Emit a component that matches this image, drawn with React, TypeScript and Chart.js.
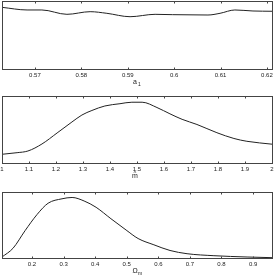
import React, { useEffect, useRef } from "react";
import { Chart, registerables } from "chart.js";

Chart.register(...registerables);

// Panel 1: a_1
const A1_X = [0.5629, 0.5683, 0.5715, 0.5769, 0.5819, 0.5855, 0.5905, 0.5959, 0.5997, 0.6073, 0.6099, 0.6131, 0.617, 0.6211];
const A1_Y = [0.907, 0.868, 0.868, 0.804, 0.843, 0.819, 0.769, 0.804, 0.799, 0.794, 0.819, 0.868, 0.853, 0.849];
const A1_TICKS = [0.57, 0.58, 0.59, 0.6, 0.61, 0.62];
const A1_LABELS = ["0.57", "0.58", "0.59", "0.6", "0.61", "0.62"];

// Panel 2: m-hat
const M_X = [1.0, 1.056, 1.096, 1.148, 1.204, 1.259, 1.296, 1.333, 1.381, 1.437, 1.481, 1.519, 1.574, 1.622, 1.667, 1.722, 1.796, 1.859, 1.907, 2.0];
const M_Y = [0.13, 0.154, 0.179, 0.284, 0.448, 0.612, 0.716, 0.784, 0.851, 0.885, 0.907, 0.907, 0.828, 0.734, 0.652, 0.575, 0.452, 0.366, 0.324, 0.281];
const M_TICKS = [1, 1.1, 1.2, 1.3, 1.4, 1.5, 1.6, 1.7, 1.8, 1.9, 2];
const M_LABELS = ["1", "1.1", "1.2", "1.3", "1.4", "1.5", "1.6", "1.7", "1.8", "1.9", "2"];

// Panel 3: Omega_m
const OM_X = [0.105, 0.14, 0.178, 0.216, 0.251, 0.295, 0.327, 0.365, 0.403, 0.45, 0.498, 0.536, 0.586, 0.637, 0.691, 0.776, 0.881, 0.96];
const OM_Y = [0.015, 0.148, 0.414, 0.659, 0.83, 0.897, 0.917, 0.864, 0.768, 0.595, 0.424, 0.295, 0.2, 0.114, 0.065, 0.035, 0.015, 0.005];
const OM_TICKS = [0.2, 0.3, 0.4, 0.5, 0.6, 0.7, 0.8, 0.9];
const OM_LABELS = ["0.2", "0.3", "0.4", "0.5", "0.6", "0.7", "0.8", "0.9"];

type PanelProps = {
  top: number;
  height: number;
  pad: { left: number; top: number; right: number; bottom: number };
  xs: number[];
  ys: number[];
  xmin: number;
  xmax: number;
  ticks: number[];
  labels: string[];
  title: string;
  sub: string;
  hat?: boolean;
};

function Panel(p: PanelProps) {
  const ref = useRef<HTMLCanvasElement | null>(null);
  useEffect(() => {
    if (!ref.current) return;
    const boxPlugin = {
      id: "box",
      afterDraw(chart: any) {
        const ctx = chart.ctx as CanvasRenderingContext2D;
        const a = chart.chartArea;
        const xs = chart.scales.x;
        ctx.save();
        ctx.strokeStyle = "#444";
        ctx.lineWidth = 1;
        ctx.strokeRect(a.left + 0.5, a.top + 0.5, a.right - a.left, a.bottom - a.top);
        ctx.beginPath();
        p.ticks.forEach((t) => {
          const x = Math.round(xs.getPixelForValue(t)) + 0.5;
          ctx.moveTo(x, a.top);
          ctx.lineTo(x, a.top + 2.5);
          ctx.moveTo(x, a.bottom + 1);
          ctx.lineTo(x, a.bottom - 1.5);
        });
        ctx.stroke();
        ctx.fillStyle = "#222";
        ctx.font = "6px 'Liberation Sans', Arial, sans-serif";
        ctx.textAlign = "center";
        ctx.textBaseline = "middle";
        p.ticks.forEach((t, i) => {
          const x = xs.getPixelForValue(t);
          ctx.fillText(p.labels[i], x, a.bottom + 6);
        });
        const cx = (a.left + a.right) / 2 - 2;
        ctx.font = "7px 'Liberation Sans', Arial, sans-serif";
        ctx.fillText(p.title, cx, a.bottom + 13);
        if (p.hat) {
          ctx.font = "6px 'Liberation Sans', Arial, sans-serif";
          ctx.fillText("^", cx, a.bottom + 10);
        }
        if (p.sub) {
          ctx.font = "5px 'Liberation Sans', Arial, sans-serif";
          ctx.textAlign = "left";
          ctx.fillText(p.sub, cx + 3, a.bottom + 16);
        }
        ctx.restore();
      },
    };
    const chart = new Chart(ref.current, {
      type: "line",
      data: {
        datasets: [
          {
            data: p.xs.map((x, i) => ({ x, y: p.ys[i] })),
            borderColor: "#222",
            borderWidth: 1,
            pointRadius: 0,
            cubicInterpolationMode: "monotone",
            fill: false,
          },
        ],
      },
      options: {
        animation: false,
        responsive: false,
        devicePixelRatio: 1,
        layout: { padding: p.pad },
        plugins: { legend: { display: false }, tooltip: { enabled: false } },
        scales: {
          x: { type: "linear", min: p.xmin, max: p.xmax, display: false },
          y: { type: "linear", min: 0, max: 1, display: false },
        },
      },
      plugins: [boxPlugin],
    });
    return () => chart.destroy();
  }, []);
  return (
    <canvas
      ref={ref}
      width={277}
      height={p.height}
      style={{ position: "absolute", left: 0, top: p.top, width: 277, height: p.height }}
    />
  );
}

export default function App() {
  return (
    <div style={{ position: "absolute", left: 0, top: 0, width: 277, height: 277, background: "#fff" }}>
      <Panel top={0} height={90} pad={{ left: 2, top: 1, right: 5, bottom: 21 }} xs={A1_X} ys={A1_Y}
        xmin={0.5629} xmax={0.6211} ticks={A1_TICKS} labels={A1_LABELS} title="a" sub="1" />
      <Panel top={90} height={90} pad={{ left: 2, top: 6, right: 5, bottom: 17 }} xs={M_X} ys={M_Y}
        xmin={1} xmax={2} ticks={M_TICKS} labels={M_LABELS} title="m" sub="" hat />
      <Panel top={180} height={97} pad={{ left: 2, top: 12, right: 5, bottom: 19 }} xs={OM_X} ys={OM_Y}
        xmin={0.105} xmax={0.96} ticks={OM_TICKS} labels={OM_LABELS} title={"\u03A9"} sub="m" />
    </div>
  );
}
